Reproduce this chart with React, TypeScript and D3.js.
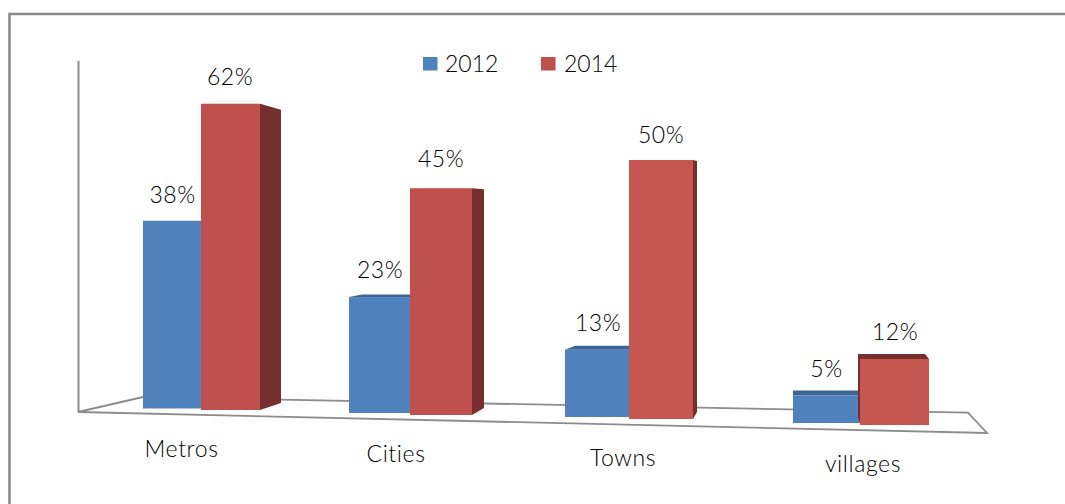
import React from "react";
import * as d3 from "d3";

const categories = ["Metros", "Cities", "Towns", "villages"];
const years = ["2012", "2014"];
const values2012 = [38, 23, 13, 5];
const values2014 = [62, 45, 50, 12];

const W = 1065, H = 504;
const idx = [0, 1, 2, 3];
// perspective of the 3-D floor: each category sits at its own place
const xLeft = d3.scaleLinear().domain(idx).range([143, 349, 565, 793]);
const xMid = d3.scaleLinear().domain(idx).range([201, 410, 629, 860]);
const xRight = d3.scaleLinear().domain(idx).range([260, 472, 693, 929]);
const base2012 = d3.scaleLinear().domain(idx).range([408.5, 413, 417, 423]);
const base2014 = d3.scaleLinear().domain(idx).range([410, 415, 419, 425]);
const pxPerPct = d3.scaleLinear().domain(idx).range([4.94, 5.04, 5.18, 5.5]);
const depthX = d3.scaleLinear().domain(idx).range([21, 12, 4, -4]);
const depthY = d3.scaleLinear().domain(idx).range([-1, 2.5, 4, 5]);
const depthX2 = d3.scaleLinear().domain(idx).range([0, 13, 10, 0]);
const font = "Lato, 'Open Sans', sans-serif";
const ink = "#000";
const fs = 23;

const poly = (pts: number[][]) => d3.line()(pts as [number, number][]) + "Z";

const label2012Center = [172.5, 380, 598, 826.5];
const label2012Gap = [18, 19, 18.7, 19];
const label2014Center = [230, 441, 661, 895];
const label2014Gap = [18.7, 21, 17, 19];
const catLabelPos = [[181.5, 457], [396, 462], [623, 466], [863, 472]];

export default function App() {
  return (
    <svg width={W} height={H} style={{ position: "absolute", left: 0, top: 0, background: "#fff" }}>
      <path d={`M9.5,${H}V14H${W}`} fill="none" stroke="#888" strokeWidth={2.5} />
      <line x1={78.5} y1={61} x2={78.5} y2={412} stroke="#8c8c8c" strokeWidth={2} />
      <path d="M78,412L143,397L968,412.7L987,433Z" fill="#fff" stroke="#8c8c8c" strokeWidth={1.8} />
      {idx.map((i) => {
        const l = xLeft(i), m = xMid(i), r = xRight(i);
        const b1 = base2012(i), b2 = base2014(i), k = pxPerPct(i);
        const t1 = b1 - values2012[i] * k;
        const t2 = b2 - values2014[i] * k;
        const dx = depthX(i), dy = depthY(i), ins = depthX2(i);
        return (
          <g key={categories[i]}>
            {dy > 0 && <path d={poly([[l, t1], [l + ins, t1 - dy], [m, t1 - dy], [m, t1]])} fill="#3b6595" />}
            <rect x={l} y={t1} width={m - l} height={b1 - t1} fill="#4f81bd" />
            {dx > 0 ? (
              <path d={poly([[r, t2], [r + dx, t2 + (i === 0 ? 6 : 1)], [r + dx, b2 - 7], [r, b2]])} fill="#772f2e" />
            ) : (
              <path d={poly([[m - 2, t2 - dy], [r - 4, t2 - dy], [r, t2], [m, t2], [m, b1], [m - 2, b1 - 5]])} fill="#772f2e" />
            )}
            <rect x={m} y={t2} width={r - m} height={b2 - t2} fill={i < 2 ? "#c0504d" : "#c65651"} />
            <text x={label2012Center[i]} y={t1 - label2012Gap[i]} textAnchor="middle" fontFamily={font} fontWeight={300} fontSize={fs} letterSpacing={0.5} fill={ink}>{values2012[i]}%</text>
            <text x={label2014Center[i]} y={t2 - label2014Gap[i]} textAnchor="middle" fontFamily={font} fontWeight={300} fontSize={fs} letterSpacing={0.5} fill={ink}>{values2014[i]}%</text>
            <text x={catLabelPos[i][0]} y={catLabelPos[i][1]} textAnchor="middle" fontFamily={font} fontWeight={300} fontSize={fs} letterSpacing={0.6} fill={ink}>{categories[i]}</text>
          </g>
        );
      })}
      {years.map((y, j) => (
        <g key={y}>
          <rect x={j === 0 ? 423 : 541} y={57} width={14.5} height={13.5} fill={j === 0 ? "#4f81bd" : "#c0504d"} />
          <text x={j === 0 ? 445 : 564} y={71.5} fontFamily={font} fontWeight={300} fontSize={fs} fill={ink}>{y}</text>
        </g>
      ))}
    </svg>
  );
}
